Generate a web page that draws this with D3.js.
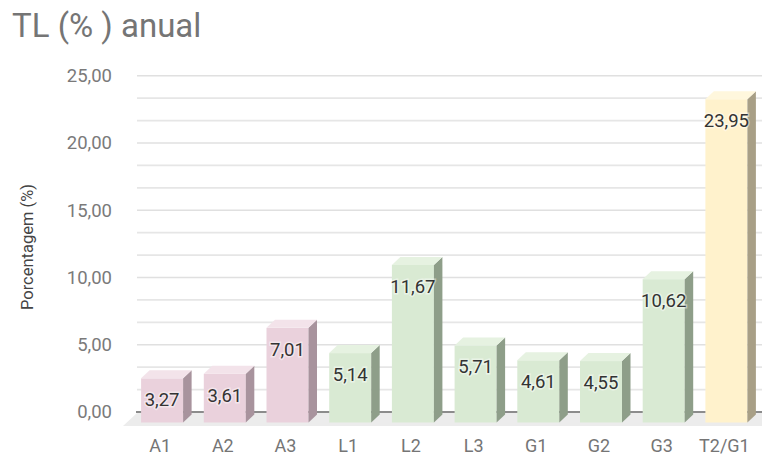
<!DOCTYPE html>
<html>
<head>
<meta charset="utf-8">
<script src="https://cdn.jsdelivr.net/npm/d3@7/dist/d3.min.js"></script>
<style>
  html, body { margin: 0; padding: 0; background: #fff; }
  svg { display: block; font-family: Roboto, "Noto Sans", sans-serif; }
</style>
</head>
<body>
<svg id="chart" width="762" height="456"></svg>
<script>
const categories = ["A1", "A2", "A3", "L1", "L2", "L3", "G1", "G2", "G3", "T2/G1"];
const values = [3.27, 3.61, 7.01, 5.14, 11.67, 5.71, 4.61, 4.55, 10.62, 23.95];
const groups = ["A", "A", "A", "L", "L", "L", "G", "G", "G", "T"];
const yTicks = [0, 5, 10, 15, 20, 25];
const yMinorTicks = [1.6667, 3.3333, 6.6667, 8.3333, 11.6667, 13.3333, 16.6667, 18.3333, 21.6667, 23.3333];
const title = "TL (% ) anual";
const yTitle = "Porcentagem (%)";

const palette = {
  A: { front: "#ead1dc", side: "#a8939d", top: "#f3e3ea" },
  L: { front: "#d9ead3", side: "#8e9e89", top: "#e6f2e1" },
  G: { front: "#d9ead3", side: "#8e9e89", top: "#e6f2e1" },
  T: { front: "#fff2cc", side: "#a89f86", top: "#fff7dd" }
};

const fmt = v => d3.format(".2f")(v).replace(".", ",");

const svg = d3.select("#chart");
const W = 762;
const dx = 8.5, dy = 8;
const wallBase = 412, frontBase = 422.5;

const x = d3.scaleBand().domain(categories).range([130.6, 757.9]).paddingInner(0.33).paddingOuter(0.1675);
const yWall = d3.scaleLinear().domain([0, 25]).range([wallBase, wallBase - 25 * 13.45]);
const yFront = d3.scaleLinear().domain([0, 25]).range([frontBase, frontBase - 25 * 13.5]);

// title
svg.append("text").attr("x", 12).attr("y", 37).attr("font-size", 33).attr("fill", "#757575").text(title);

// gridlines
const gridG = svg.append("g");
gridG.selectAll("line.minor").data(yMinorTicks).join("line")
  .attr("x1", 137).attr("x2", W).attr("y1", d => yWall(d)).attr("y2", d => yWall(d))
  .attr("stroke", "#e6e6e6").attr("stroke-width", 1.6);
gridG.selectAll("line.major").data(yTicks.filter(d => d > 0)).join("line")
  .attr("x1", 137).attr("x2", W).attr("y1", d => yWall(d)).attr("y2", d => yWall(d))
  .attr("stroke", "#e0e0e0").attr("stroke-width", 1.6);

// tick labels
svg.append("g").selectAll("text").data(yTicks).join("text")
  .attr("x", 112).attr("y", d => yWall(d)).attr("dy", "0.35em")
  .attr("text-anchor", "end").attr("font-size", 18.5).attr("fill", "#7a7a7a")
  .text(d => fmt(d));

// y axis title
svg.append("text")
  .attr("transform", "translate(33,247) rotate(-90)")
  .attr("text-anchor", "middle").attr("font-size", 16.5).attr("fill", "#444")
  .text(yTitle);

// floor
svg.append("path")
  .attr("d", `M137,${wallBase + 1} L${W},${wallBase + 1} L${W},426 L123,426 Z`)
  .attr("fill", "#ececec");
svg.append("line").attr("x1", 136).attr("x2", W).attr("y1", wallBase).attr("y2", wallBase)
  .attr("stroke", "#666").attr("stroke-width", 1.5);

// bars
const bw = x.bandwidth();
const bars = svg.append("g").selectAll("g").data(categories).join("g");
bars.append("rect")
  .attr("x", d => x(d)).attr("y", (d, i) => yFront(values[i]))
  .attr("width", bw).attr("height", (d, i) => frontBase - yFront(values[i]))
  .attr("fill", (d, i) => palette[groups[i]].front);
bars.append("path")
  .attr("d", (d, i) => {
    const x0 = x(d) + bw, yt = yFront(values[i]);
    return `M${x0},${yt} L${x0 + dx},${yt - dy} L${x0 + dx},${frontBase - dy} L${x0},${frontBase} Z`;
  })
  .attr("fill", (d, i) => palette[groups[i]].side);
bars.append("path")
  .attr("d", (d, i) => {
    const x0 = x(d), yt = yFront(values[i]);
    return `M${x0},${yt} L${x0 + dx},${yt - dy} L${x0 + bw + dx},${yt - dy} L${x0 + bw},${yt} Z`;
  })
  .attr("fill", (d, i) => palette[groups[i]].top);

// value labels
bars.append("text")
  .attr("x", d => x(d) + bw / 2).attr("y", (d, i) => yFront(values[i]) + 28)
  .attr("text-anchor", "middle").attr("font-size", 18.5).attr("fill", "#333")
  .attr("stroke", "#ffffff").attr("stroke-opacity", 0.45).attr("stroke-width", 3)
  .attr("paint-order", "stroke")
  .text((d, i) => fmt(values[i]));

// x labels
svg.append("g").selectAll("text").data(categories).join("text")
  .attr("x", d => x(d) + bw / 2 - 2).attr("y", 452)
  .attr("text-anchor", "middle").attr("font-size", 18).attr("fill", "#757575")
  .text(d => d);
</script>
</body>
</html>
